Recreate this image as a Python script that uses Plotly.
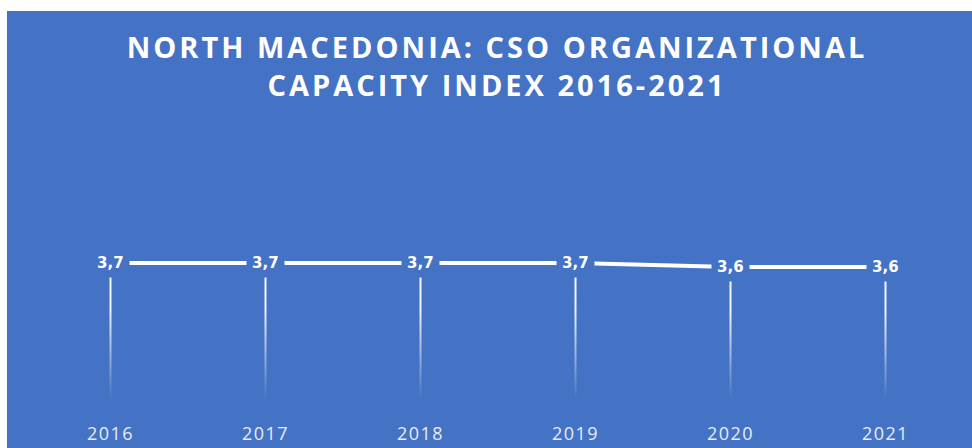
import plotly.graph_objects as go

years = [2016, 2017, 2018, 2019, 2020, 2021]
values = [3.7, 3.7, 3.7, 3.7, 3.6, 3.6]
labels = ["3,7", "3,7", "3,7", "3,7", "3,6", "3,6"]
title_lines = ["NORTH MACEDONIA: CSO ORGANIZATIONAL", "CAPACITY INDEX 2016-2021"]

BLUE_HEX = "#4472C4"
W, H = 972, 448
ML, MR, MT, MB = 33, 9, 120, 33
pw, ph = W - ML - MR, H - MT - MB
XMIN, XMAX = 2015.5, 2021.5
half_px = (XMAX - XMIN) / pw  # one pixel in data units

fig = go.Figure()

# drop lines: thin filled rectangles with a vertical white gradient fading toward the axis
for yr, v in zip(years, values):
    fig.add_trace(go.Scatter(
        x=[yr - half_px, yr + half_px, yr + half_px, yr - half_px, yr - half_px],
        y=[0, 0, v, v, 0], mode="lines", line=dict(width=0),
        fill="toself",
        fillgradient=dict(type="vertical", start=0, stop=v,
                          colorscale=[[0, "rgba(255,255,255,0)"], [0.1, "rgba(255,255,255,0)"],
                                      [0.7, "rgba(255,255,255,0.92)"], [1, "rgba(255,255,255,0.97)"]]),
        hoverinfo="skip", showlegend=False))

fig.add_trace(go.Scatter(x=years, y=values, mode="lines",
                         line=dict(color="white", width=4), hoverinfo="skip", showlegend=False))

annotations = []
for yr, v, lab in zip(years, values, labels):
    annotations.append(dict(x=yr, y=v, xref="x", yref="y", text=f"<b>{lab}</b>", showarrow=False,
                            font=dict(family="DejaVu Sans", size=15, color="white"),
                            bgcolor=BLUE_HEX, borderpad=5))

bg = dict(type="rect", xref="paper", yref="paper",
          x0=(7 - ML) / pw, x1=(W - ML + 5) / pw,
          y0=-(MB + 5) / ph, y1=(H - MB - 11) / ph,
          fillcolor=BLUE_HEX, line=dict(width=0), layer="below")

LS = "letter-spacing:3px"
fig.update_layout(
    width=W, height=H,
    margin=dict(l=ML, r=MR, t=MT, b=MB, pad=0, autoexpand=False),
    paper_bgcolor="white", plot_bgcolor="rgba(0,0,0,0)",
    shapes=[bg],
    annotations=annotations,
    title=dict(text=f"<b><span style='{LS}'>" + title_lines[0] + "</span><br>"
                    f"<span style='{LS}'>" + title_lines[1] + "</span></b>",
               x=497 / W, xanchor="center", y=1 - 58 / H, yanchor="middle",
               font=dict(family="Open Sans", size=29, color="white")),
    xaxis=dict(range=[XMIN, XMAX], tickvals=years,
               ticktext=[f"<span style='letter-spacing:1.5px'>{y}</span>" for y in years],
               showgrid=False, zeroline=False, showline=False, automargin=False,
               ticks="", ticklabelstandoff=6,
               tickfont=dict(family="Open Sans", size=18, color="#E6ECF7"), fixedrange=True),
    yaxis=dict(range=[0, 7.18], visible=False, fixedrange=True, automargin=False),
    showlegend=False,
)

fig.write_html("out.html", config={"displayModeBar": False},
               post_script="document.body.style.margin='0';document.body.style.padding='0';")
